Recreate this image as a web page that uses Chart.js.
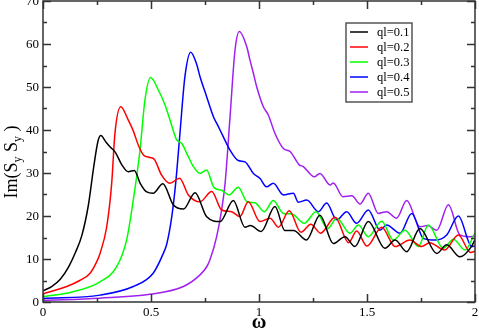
<!DOCTYPE html>
<html>
<head>
<meta charset="utf-8">
<script src="https://cdn.jsdelivr.net/npm/chart.js@4.4.1/dist/chart.umd.min.js"></script>
<style>
  html, body { margin: 0; padding: 0; background: #fff; }
  #wrap { width: 479px; height: 332px; position: relative; }
</style>
</head>
<body>
<div id="wrap"><canvas id="graficoIm"></canvas></div>
<script>
// omega / Im(SySy), uma curva por ql
const omega1 = [0, 0.04, 0.08, 0.12, 0.15, 0.18, 0.21, 0.235, 0.255, 0.268, 0.29, 0.31, 0.335, 0.365, 0.395, 0.423, 0.45, 0.48, 0.51, 0.555, 0.603, 0.65, 0.704, 0.758, 0.82, 0.881, 0.935, 0.96, 1.01, 1.074, 1.12, 1.16, 1.22, 1.282, 1.344, 1.398, 1.444, 1.506, 1.583, 1.63, 1.684, 1.745, 1.823, 1.869, 1.93, 1.985, 2];
const im1 = [2.6, 3.6, 5.3, 8.3, 11.5, 15.5, 22.5, 31.5, 37.5, 38.7, 37.3, 36.1, 34.8, 31.9, 30.3, 30.6, 27.6, 25.6, 25.3, 27.5, 22.6, 21.6, 25.4, 19.8, 18.7, 23.6, 17.4, 17.8, 16.4, 22.2, 16.6, 16.6, 14.4, 20.2, 13.6, 15.2, 12.9, 18.7, 12.5, 14.4, 11.7, 17.1, 11.3, 13.3, 10.5, 13.0, 14.5];

const omega2 = [0, 0.11, 0.17, 0.218, 0.25, 0.264, 0.295, 0.318, 0.333, 0.36, 0.395, 0.418, 0.441, 0.465, 0.495, 0.515, 0.549, 0.588, 0.632, 0.673, 0.727, 0.781, 0.827, 0.873, 0.912, 0.95, 1.005, 1.051, 1.09, 1.14, 1.194, 1.24, 1.285, 1.352, 1.415, 1.452, 1.5, 1.568, 1.63, 1.699, 1.753, 1.79, 1.86, 1.923, 1.98, 2];
const im2 = [1.9, 3.6, 5.0, 6.7, 9.5, 11.3, 17.5, 27.6, 39.2, 45.4, 42.3, 39.8, 36.5, 34.2, 33.6, 33.2, 29.5, 27.6, 28.8, 24.9, 23.3, 25.7, 21.4, 21.0, 19.9, 23.3, 18.7, 19.5, 17.4, 21.2, 16.2, 18.1, 16.0, 19.7, 13.8, 16.5, 13.0, 17.4, 12.9, 14.4, 12.9, 13.8, 12.1, 15.6, 11.5, 11.8];

const omega3 = [0, 0.14, 0.264, 0.341, 0.387, 0.418, 0.449, 0.472, 0.498, 0.534, 0.565, 0.59, 0.619, 0.642, 0.667, 0.696, 0.727, 0.757, 0.792, 0.827, 0.862, 0.904, 0.945, 0.981, 1.025, 1.066, 1.113, 1.15, 1.21, 1.264, 1.318, 1.36, 1.421, 1.46, 1.506, 1.568, 1.622, 1.676, 1.738, 1.784, 1.853, 1.9, 1.954, 2];
const im3 = [1.2, 2.4, 4.7, 8.2, 14.4, 23.7, 35.3, 47.0, 52.2, 49.3, 45.8, 42.0, 37.7, 36.9, 34.4, 31.5, 29.9, 30.7, 26.6, 26.0, 24.9, 26.7, 23.3, 23.1, 21.0, 23.6, 20.6, 20.5, 18.3, 21.0, 17.1, 19.5, 16.0, 17.9, 15.2, 18.8, 14.4, 16.7, 12.9, 17.9, 12.5, 14.6, 12.1, 16.1];

const omega4 = [0, 0.264, 0.418, 0.51, 0.557, 0.573, 0.596, 0.615, 0.634, 0.657, 0.684, 0.71, 0.727, 0.758, 0.789, 0.812, 0.835, 0.866, 0.904, 0.935, 0.974, 1.005, 1.035, 1.066, 1.113, 1.159, 1.182, 1.221, 1.275, 1.313, 1.36, 1.406, 1.452, 1.506, 1.56, 1.591, 1.653, 1.707, 1.761, 1.815, 1.869, 1.923, 1.985, 2];
const im4 = [0.8, 1.6, 3.6, 6.7, 11.3, 13.5, 19.8, 28.0, 39.2, 52.4, 58.1, 55.5, 52.4, 47.7, 43.1, 40.8, 38.4, 35.3, 32.9, 32.6, 29.9, 28.7, 26.8, 27.6, 24.9, 25.3, 23.2, 23.7, 21.0, 23.0, 19.1, 21.0, 18.3, 21.4, 16.7, 17.9, 16.0, 20.6, 14.8, 14.4, 15.6, 20.0, 12.9, 13.0];

const omega5 = [0, 0.264, 0.495, 0.65, 0.727, 0.758, 0.773, 0.804, 0.827, 0.843, 0.866, 0.889, 0.909, 0.943, 0.958, 0.974, 0.989, 1.02, 1.043, 1.074, 1.113, 1.144, 1.186, 1.205, 1.256, 1.282, 1.329, 1.344, 1.388, 1.43, 1.468, 1.506, 1.552, 1.591, 1.637, 1.684, 1.745, 1.78, 1.823, 1.877, 1.93, 1.97, 2];
const im5 = [0.4, 0.9, 1.8, 3.6, 6.3, 8.2, 9.8, 15.2, 21.4, 27.6, 43.1, 58.6, 62.9, 59.4, 56.3, 53.2, 50.1, 45.4, 43.5, 39.2, 35.7, 35.0, 31.9, 31.5, 29.1, 29.9, 27.2, 27.7, 24.5, 24.7, 22.8, 25.3, 20.6, 21.0, 19.5, 23.6, 17.5, 17.8, 16.7, 22.6, 15.6, 15.2, 15.3];

const rotulos = ['ql=0.1', 'ql=0.2', 'ql=0.3', 'ql=0.4', 'ql=0.5'];
const cores = ['#000000', '#ff0000', '#00ff00', '#0000ff', '#a020f0'];

const xTicks = [0, 0.5, 1, 1.5, 2];
const yTicks = [0, 10, 20, 30, 40, 50, 60, 70];

const omegas = [omega1, omega2, omega3, omega4, omega5];
const ims = [im1, im2, im3, im4, im5];

const fonteSerif = '"Liberation Serif", "Times New Roman", serif';

// moldura estilo xmgrace: caixa, ticks para dentro, rotulos, legenda e titulos
const molduraGrace = {
  id: 'molduraGrace',
  afterDraw(chart) {
    const ctx = chart.ctx;
    const a = chart.chartArea;
    const sx = chart.scales.x;
    const sy = chart.scales.y;
    ctx.save();
    ctx.strokeStyle = '#333';
    ctx.lineWidth = 1.5;
    ctx.strokeRect(a.left, a.top, a.right - a.left, a.bottom - a.top);

    ctx.beginPath();
    for (let v = 0; v <= 2.0001; v += 0.25) {
      const px = Math.round(sx.getPixelForValue(v)) + 0.5;
      const len = (Math.abs(v * 2 - Math.round(v * 2)) < 1e-6) ? 8 : 4;
      ctx.moveTo(px, a.bottom); ctx.lineTo(px, a.bottom - len);
      ctx.moveTo(px, a.top); ctx.lineTo(px, a.top + len);
    }
    for (let v = 0; v <= 70; v += 5) {
      const py = Math.round(sy.getPixelForValue(v)) + 0.5;
      const len = (v % 10 === 0) ? 8 : 4;
      ctx.moveTo(a.left, py); ctx.lineTo(a.left + len, py);
      ctx.moveTo(a.right, py); ctx.lineTo(a.right - len, py);
    }
    ctx.stroke();

    // rotulos dos ticks
    ctx.fillStyle = '#000';
    ctx.font = '13px ' + fonteSerif;
    ctx.textAlign = 'center';
    ctx.textBaseline = 'top';
    xTicks.forEach(v => ctx.fillText(String(v), sx.getPixelForValue(v), a.bottom + 4));
    ctx.textAlign = 'right';
    ctx.textBaseline = 'middle';
    yTicks.forEach(v => ctx.fillText(String(v), a.left - 4, sy.getPixelForValue(v) + 0.5));

    // titulo eixo x
    ctx.font = 'bold 20px ' + fonteSerif;
    ctx.textAlign = 'center';
    ctx.textBaseline = 'alphabetic';
    ctx.fillText('ω', (a.left + a.right) / 2, 328);

    // titulo eixo y com subscritos
    const partes = [['Im(S', 18, 0], ['y', 12, 4], [' S', 18, 0], ['y', 12, 4], [' )', 18, 0]];
    let total = 0;
    partes.forEach(p => { ctx.font = p[1] + 'px ' + fonteSerif; total += ctx.measureText(p[0]).width; });
    ctx.translate(17, 162);
    ctx.rotate(-Math.PI / 2);
    ctx.textAlign = 'left';
    let pos = -total / 2;
    partes.forEach(p => {
      ctx.font = p[1] + 'px ' + fonteSerif;
      ctx.fillText(p[0], pos, p[2]);
      pos += ctx.measureText(p[0]).width;
    });
    ctx.restore();

    // legenda
    ctx.save();
    const lx = 346, ly = 23, lw = 66, lh = 79;
    ctx.fillStyle = '#fff';
    ctx.fillRect(lx, ly, lw, lh);
    ctx.strokeStyle = '#555';
    ctx.lineWidth = 1.5;
    ctx.strokeRect(lx, ly, lw, lh);
    ctx.font = '12.5px ' + fonteSerif;
    ctx.textBaseline = 'middle';
    ctx.textAlign = 'left';
    chart.data.datasets.forEach((ds, i) => {
      const yy = 32 + i * 15;
      ctx.strokeStyle = ds.borderColor;
      ctx.lineWidth = 1.5;
      ctx.beginPath();
      ctx.moveTo(350, yy); ctx.lineTo(368, yy);
      ctx.stroke();
      ctx.fillStyle = '#000';
      ctx.fillText(ds.label, 377, yy + 0.5);
    });
    ctx.restore();
  }
};

new Chart(document.getElementById('graficoIm'), {
  type: 'line',
  data: {
    datasets: rotulos.map((r, i) => ({
      label: r,
      data: omegas[i].map((w, k) => ({ x: w, y: ims[i][k] })),
      borderColor: cores[i],
      borderWidth: 1.5,
      pointRadius: 0,
      fill: false,
      cubicInterpolationMode: 'monotone'
    }))
  },
  options: {
    responsive: true,
    maintainAspectRatio: false,
    animation: false,
    devicePixelRatio: 1,
    layout: { autoPadding: false, padding: { top: 1, right: 4, left: 0, bottom: 0 } },
    plugins: { legend: { display: false }, tooltip: { enabled: false } },
    scales: {
      x: {
        type: 'linear',
        min: 0, max: 2,
        afterFit: s => { s.height = 30; },
        grid: { display: false },
        border: { display: false },
        ticks: { display: false }
      },
      y: {
        min: 0, max: 70,
        afterFit: s => { s.width = 43; },
        grid: { display: false },
        border: { display: false },
        ticks: { display: false }
      }
    }
  },
  plugins: [molduraGrace]
});
</script>
</body>
</html>
